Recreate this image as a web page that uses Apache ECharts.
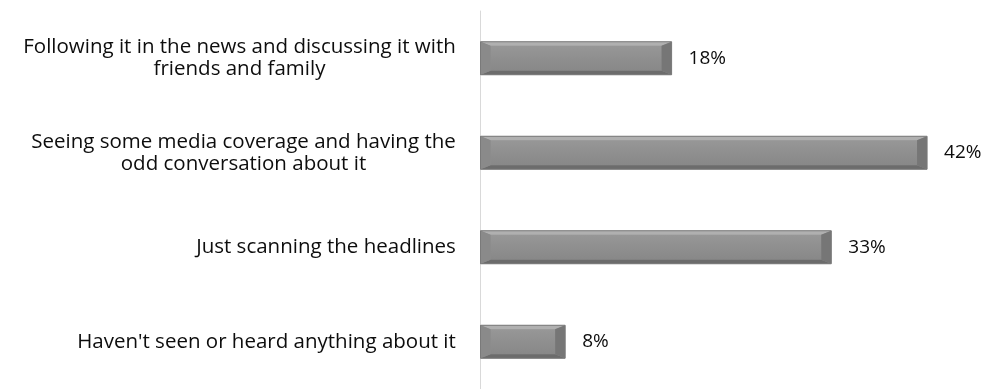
<!DOCTYPE html>
<html>
<head>
<meta charset="utf-8">
<script src="https://cdn.jsdelivr.net/npm/echarts@6/dist/echarts.min.js"></script>
<style>
  html, body { margin: 0; padding: 0; background: #ffffff; }
  #chart { width: 989px; height: 389px; }
</style>
</head>
<body>
<div id="chart"></div>
<script>
// Survey answers, top to bottom
const categories = [
  'Following it in the news and discussing it with\nfriends and family',
  'Seeing some media coverage and having the\nodd conversation about it',
  'Just scanning the headlines',
  "Haven't seen or heard anything about it"
];
// Share of respondents (%)
const shares = [18, 42, 33, 8];

const FONT = 'Open Sans';
const FONT_SIZE = 20.5;

// Width of the longest line of each label, so wrapped lines can be centred
const measureCtx = document.createElement('canvas').getContext('2d');
measureCtx.font = FONT_SIZE + 'px "' + FONT + '"';
const richStyles = {};
categories.forEach(function (label, i) {
  const w = Math.max.apply(null, label.split('\n').map(function (l) {
    return measureCtx.measureText(l).width;
  }));
  richStyles['l' + i] = {
    width: Math.ceil(w),
    align: 'center',
    fontFamily: FONT,
    fontSize: FONT_SIZE,
    lineHeight: 22,
    color: '#0d0d0d'
  };
});

// Bevelled overlay drawn on top of each bar
function renderBevel(params, api) {
  const idx = api.value(1);
  const start = api.coord([0, idx]);
  const end = api.coord([api.value(0), idx]);
  const h = 33;
  const x0 = start[0] + 0.5, x1 = end[0];
  const y0 = start[1] - h / 2, y1 = start[1] + h / 2;
  const b = Math.min(10, (x1 - x0) / 4), v = 4;
  const poly = function (pts, fill) {
    return { type: 'polygon', shape: { points: pts }, style: { fill: fill }, silent: true };
  };
  return {
    type: 'group',
    children: [
      {
        type: 'rect',
        shape: { x: x0 + b, y: y0 + v, width: x1 - x0 - 2 * b, height: y1 - y0 - 2 * v },
        style: {
          fill: new echarts.graphic.LinearGradient(0, 0, 0, 1, [
            { offset: 0, color: '#979797' },
            { offset: 0.5, color: '#8f8f8f' },
            { offset: 1, color: '#888888' }
          ])
        },
        silent: true
      },
      poly([[x0, y0], [x1, y0], [x1 - b, y0 + v], [x0 + b, y0 + v]], '#b0b0b0'),
      poly([[x0, y1], [x1, y1], [x1 - b, y1 - v], [x0 + b, y1 - v]], '#6c6c6c'),
      poly([[x0, y0], [x0 + b, y0 + v], [x0 + b, y1 - v], [x0, y1]], '#8a8a8a'),
      poly([[x1, y0], [x1 - b, y0 + v], [x1 - b, y1 - v], [x1, y1]], '#767676'),
      {
        type: 'rect',
        shape: { x: x0, y: y0, width: x1 - x0, height: y1 - y0 },
        style: { fill: 'none', stroke: '#7a7a7a', lineWidth: 1 },
        silent: true
      }
    ]
  };
}

const chart = echarts.init(document.getElementById('chart'), null, { renderer: 'canvas' });
chart.setOption({
  animation: false,
  backgroundColor: '#ffffff',
  grid: { left: 480, right: 30, top: 11, bottom: -9, containLabel: false },
  xAxis: {
    type: 'value',
    min: 0,
    max: 45,
    show: false
  },
  yAxis: {
    type: 'category',
    inverse: true,
    data: categories,
    axisLine: { show: true, lineStyle: { color: '#d9d9d9', width: 1 } },
    axisTick: { show: false },
    splitLine: { show: false },
    axisLabel: {
      margin: 24,
      formatter: function (value, index) {
        return value.split('\n').map(function (l) {
          return '{l' + index + '|' + l + '}';
        }).join('\n');
      },
      rich: richStyles
    }
  },
  series: [
    {
      type: 'bar',
      data: shares,
      barWidth: 33,
      itemStyle: { color: '#8e8e8e' },
      label: {
        show: true,
        position: 'right',
        distance: 17,
        formatter: '{c}%',
        fontFamily: FONT,
        fontSize: 19,
        color: '#0d0d0d'
      },
      z: 2
    },
    {
      type: 'custom',
      renderItem: renderBevel,
      data: shares.map(function (v, i) { return [v, i]; }),
      encode: { x: 0, y: 1 },
      z: 3,
      silent: true
    }
  ]
});
</script>
</body>
</html>
